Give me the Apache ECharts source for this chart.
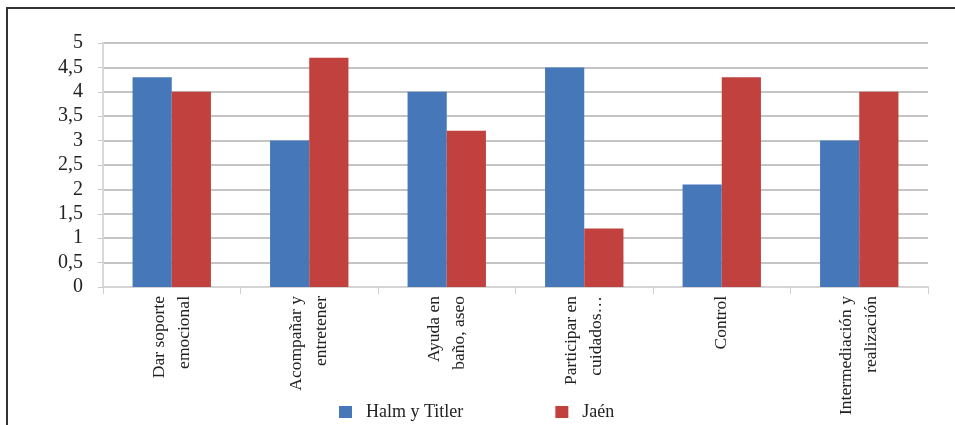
<!DOCTYPE html>
<html>
<head>
<meta charset="utf-8">
<script src="https://cdn.jsdelivr.net/npm/echarts@6/dist/echarts.min.js"></script>
<style>
html,body{margin:0;padding:0;background:#fff;}
#chart{width:955px;height:425px;}
</style>
</head>
<body>
<div id="chart"></div>
<script>
var categories = ['Dar soporte\nemocional', 'Acompañar y\nentretener', 'Ayuda en\nbaño, aseo', 'Participar en\ncuidados…', 'Control', 'Intermediación y\nrealización'];
var halm = [4.3, 3.0, 4.0, 4.5, 2.1, 3.0];
var jaen = [4.0, 4.7, 3.2, 1.2, 4.3, 4.0];
var seriesNames = ['Halm y Titler', 'Jaén'];

var chart = echarts.init(document.getElementById('chart'));
var serif = '"Liberation Serif", "DejaVu Serif", serif';

chart.setOption({
	animation: false,
	textStyle: { fontFamily: serif },
	grid: { left: 103, right: 27, top: 43, bottom: 138 },
	legend: {
		data: seriesNames,
		left: 334,
		top: 398,
		itemWidth: 13,
		itemHeight: 12,
		itemGap: 92,
		icon: 'rect',
		formatter: function (name) { return '{t|' + name + '}'; },
		textStyle: {
			fontFamily: serif,
			fontSize: 18,
			color: '#222',
			rich: { t: { fontFamily: serif, fontSize: 18, color: '#222', padding: [0, 0, 0, 9] } }
		}
	},
	xAxis: {
		type: 'category',
		data: categories,
		axisLine: { show: true, lineStyle: { color: '#d4d4d4', width: 2 } },
		axisTick: { show: true, length: 7, lineStyle: { color: '#cfcfcf' } },
		axisLabel: {
			rotate: 90,
			interval: 0,
			margin: 9,
			fontFamily: serif,
			fontSize: 17.5,
			lineHeight: 25,
			color: '#222'
		}
	},
	yAxis: {
		type: 'value',
		min: 0,
		max: 5,
		interval: 0.5,
		axisLine: { show: true, lineStyle: { color: '#d8d8d8', width: 2 } },
		axisTick: { show: true, inside: false, length: 5, lineStyle: { color: '#c8c8c8' } },
		splitLine: { show: true, lineStyle: { color: '#c4c4c4', width: 2 } },
		axisLabel: {
			margin: 20,
			fontFamily: serif,
			fontSize: 20,
			color: '#222',
			formatter: function (v) { return String(v).replace('.', ','); }
		}
	},
	series: [
		{
			name: seriesNames[0],
			type: 'bar',
			data: halm,
			barGap: '0%',
			barCategoryGap: '43%',
			itemStyle: { color: '#4677b8' }
		},
		{
			name: seriesNames[1],
			type: 'bar',
			data: jaen,
			itemStyle: { color: '#c0413e' }
		}
	],
	graphic: [
		{
			type: 'polyline',
			shape: { points: [[7, 430], [7, 8], [960, 8]] },
			style: { stroke: '#333', lineWidth: 2, fill: null }
		}
	]
});
</script>
</body>
</html>
